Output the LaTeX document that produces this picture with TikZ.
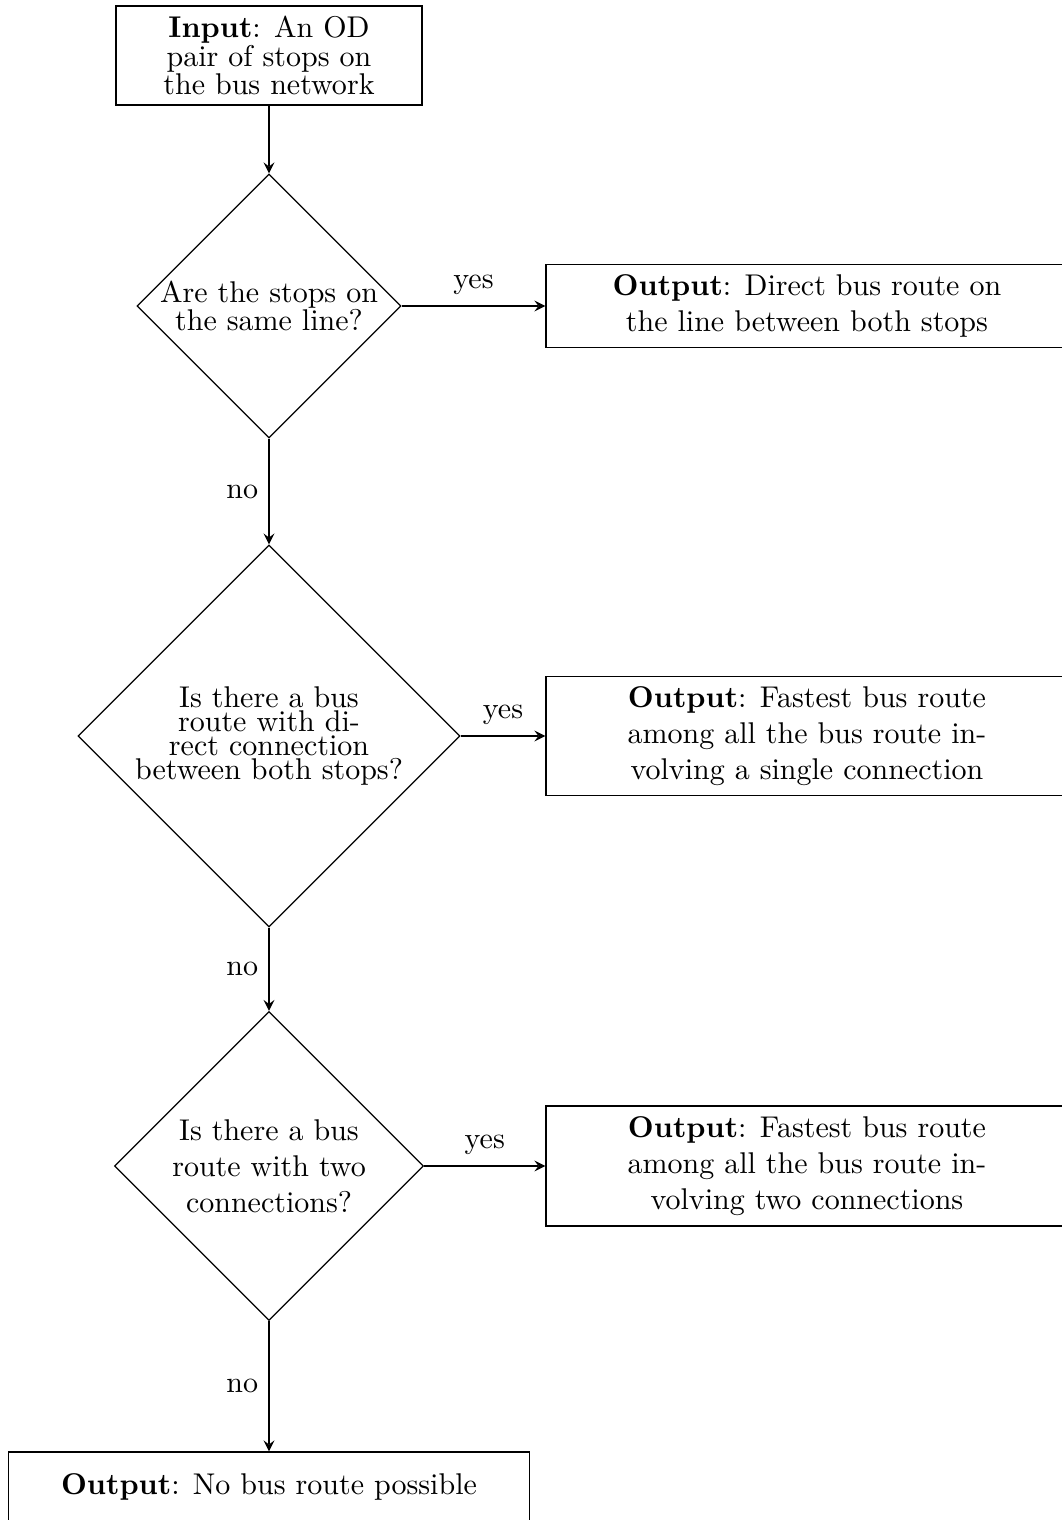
\documentclass[tikz,border=0pt]{standalone}
\usepackage{amsmath}
\usetikzlibrary{shapes.geometric}

\tikzset{
  box/.style={draw, rectangle, inner sep=0pt, align=center},
  decision/.style={draw, diamond, aspect=1, inner sep=0pt, align=center},
  line/.style={->, >=stealth, semithick},
}

\begin{document}
\begin{tikzpicture}
\useasboundingbox (0,0) rectangle (12.428,-17.804);

\node[box, minimum width=3.584cm, minimum height=1.16cm, font=\linespread{0.79}\selectfont] (in) at (3.151,-0.65) {\textbf{Input}: An OD\\pair of stops on\\the bus network};

\node[decision, inner sep=-1pt, minimum width=3.092cm, minimum height=3.092cm, font=\linespread{0.8}\selectfont] (d1) at (3.151,-3.584) {Are the stops on\\the same line?};
\node[decision, minimum width=4.474cm, minimum height=4.474cm, font=\linespread{0.667}\selectfont] (d2) at (3.151,-8.621) {Is there a bus\\route with di-\\rect connection\\between both stops?};
\node[decision, minimum width=3.619cm, minimum height=3.619cm] (d3) at (3.151,-13.657) {Is there a bus\\route with two\\connections?};

\node[box, minimum width=6.114cm, minimum height=0.972cm] (o1) at (9.452,-3.584) {\textbf{Output}: Direct bus route on\\the line between both stops};
\node[box, minimum width=6.114cm, minimum height=1.394cm] (o2) at (9.452,-8.621) {\textbf{Output}: Fastest bus route\\among all the bus route in-\\volving a single connection};
\node[box, minimum width=6.114cm, minimum height=1.406cm] (o3) at (9.452,-13.657) {\textbf{Output}: Fastest bus route\\among all the bus route in-\\volving two connections};

\node[box, minimum width=6.102cm, minimum height=0.82cm] (o4) at (3.151,-17.417) {\textbf{Output}: No bus route possible};

\draw[line] (in) -- (d1);
\draw[line] (d1) -- node[left] {no} (d2);
\draw[line] (d2) -- node[left] {no} (d3);
\draw[line] (d3) -- node[left] {no} (o4);

\draw[line] (d1) -- node[above] {yes} (o1);
\draw[line] (d2) -- node[above] {yes} (o2);
\draw[line] (d3) -- node[above] {yes} (o3);

\end{tikzpicture}
\end{document}
